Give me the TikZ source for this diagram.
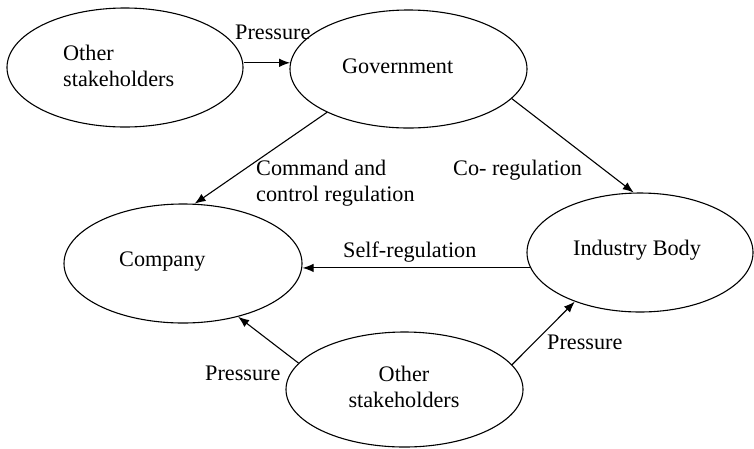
\documentclass[tikz,border=0pt]{standalone}
\usepackage{fontspec}
\setmainfont{Liberation Serif}
\usetikzlibrary{shapes.geometric,arrows.meta}
\begin{document}
\begin{tikzpicture}[x=1pt,y=-1pt,
  actor/.style={draw,ellipse,line width=1.1pt,inner sep=0pt},
  txt/.style={inner sep=0pt,anchor=base west,font=\fontsize{22.2}{26.6}\selectfont},
  flow/.style={line width=1.1pt,-{Latex[length=11pt,width=8.5pt]}}]
\useasboundingbox (0,0) rectangle (754,448);

% stakeholder groups and regulators
\node[actor,minimum width=236pt,minimum height=119pt] (os1) at (125,67.5) {};
\node[actor,minimum width=237pt,minimum height=118pt] (gov) at (408.5,69) {};
\node[actor,minimum width=238pt,minimum height=119pt] (comp) at (183,263.5) {};
\node[actor,minimum width=226pt,minimum height=119pt] (ind) at (640,252.5) {};
\node[actor,minimum width=237pt,minimum height=115pt] (os2) at (404.5,389.5) {};

% names inside the ellipses
\node[txt] (os1a) at (63,60) {Other};
\node[txt] (os1b) at (63,86) {stakeholders};
\node[txt] (govt) at (342,73) {Government};
\node[txt] (compt) at (119,266) {Company};
\node[txt] (indt) at (573,255) {Industry Body};
\node[txt,anchor=base] (os2a) at (404,381) {Other};
\node[txt,anchor=base] (os2b) at (404,407) {stakeholders};

% influences
\draw[flow] (os1.east |- gov.177) -- (gov.177);
\draw[flow] (gov.208.5) -- (comp.79);
\draw[flow] (gov.344) -- (ind.96.7);
\draw[flow] (ind.188.6) -- (comp.east |- ind.188.6);
\draw[flow] (os2.166.3) -- (comp.316.7);
\draw[flow] (os2.13.4) -- (ind.217.6);

% connector labels
\node[txt] (lp1) at (235,39) {Pressure};
\node[txt] (lcc1) at (256,175) {Command and};
\node[txt] (lcc2) at (256,201) {control regulation};
\node[txt] (lco) at (453,175) {Co- regulation};
\node[txt] (lself) at (343,257) {Self-regulation};
\node[txt] (lp2) at (205,380) {Pressure};
\node[txt] (lp3) at (547,349) {Pressure};
\end{tikzpicture}
\end{document}
